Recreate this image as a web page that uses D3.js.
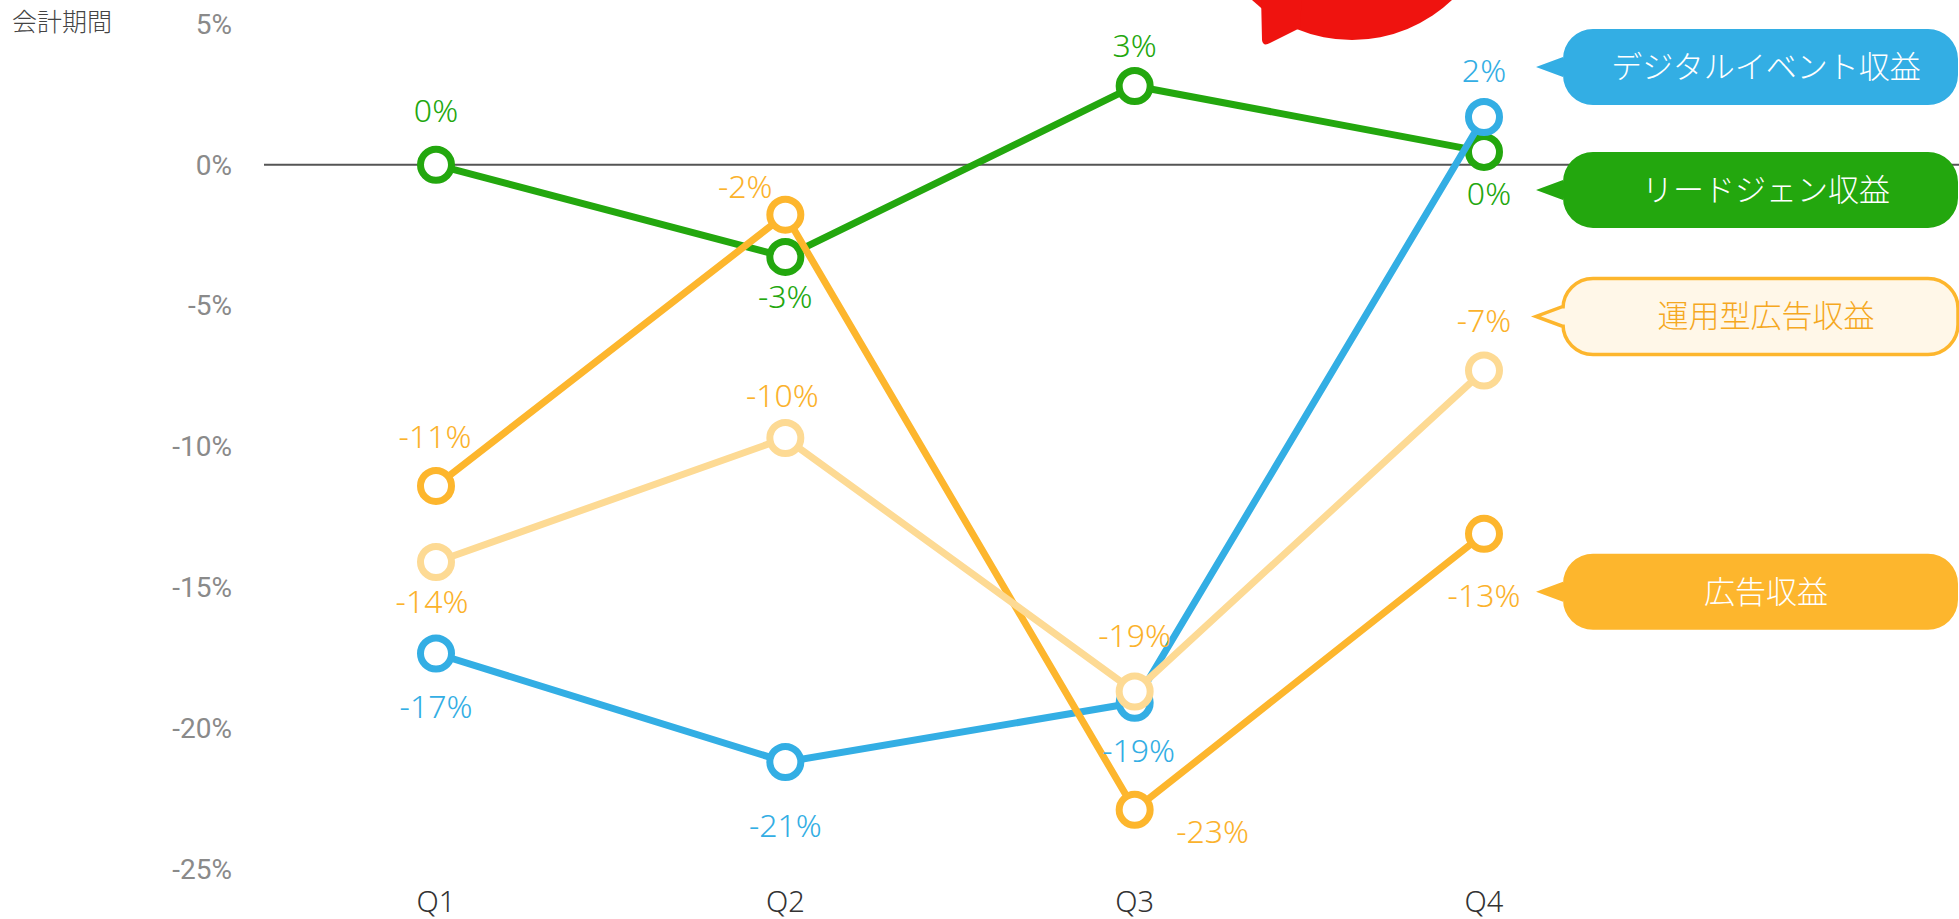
<!DOCTYPE html>
<html>
<head>
<meta charset="utf-8">
<script src="https://cdn.jsdelivr.net/npm/d3@7"></script>
<style>
  html, body { margin: 0; padding: 0; background: #fff; overflow: hidden; }
  svg { display: block; }
</style>
</head>
<body>
<svg class="chart" width="1959" height="919"></svg>
<script>
// data
var quarters = ["Q1", "Q2", "Q3", "Q4"];
var seriesNames = ["デジタルイベント収益", "リードジェン収益", "運用型広告収益", "広告収益"];
var digitalEvent = [-17.35, -21.2, -19.1, 1.7];
var leadGen = [0.0, -3.27, 2.8, 0.46];
var programmaticAd = [-14.1, -9.7, -18.7, -7.3];
var adRevenue = [-11.4, -1.77, -22.9, -13.1];
var yTicks = [5, 0, -5, -10, -15, -20, -25];
var axisTitle = "会計期間";

// label offsets relative to each point (placement only)
var labelOffsets = {
    digitalEvent:   [[0, 53], [0, 64], [4, 48], [0, -46]],
    leadGen:        [[0, -54], [0, 40], [0, -40], [5, 42]],
    programmaticAd: [[-4, 40], [-3, -42], [0, -56], [0, -50]],
    adRevenue:      [[-1, -49], [-40, -28], [78, 22], [0, 62]]
};

var series = [
    {key: "leadGen", name: seriesNames[1], values: leadGen, color: "#23a70e", text: "#23a70e", fill: "#23a70e", legendText: "#fff"},
    {key: "digitalEvent", name: seriesNames[0], values: digitalEvent, color: "#33aee4", text: "#33aee4", fill: "#33aee4", legendText: "#fff"},
    {key: "adRevenue", name: seriesNames[3], values: adRevenue, color: "#fdb62d", text: "#fbb22c", fill: "#fdb62d", legendText: "#fff"},
    {key: "programmaticAd", name: seriesNames[2], values: programmaticAd, color: "#fdda94", text: "#fbb22c", fill: "#fff7e8", legendText: "#f5a81f", stroke: "#fdb62d"}
];

var svg = d3.select(".chart");
var W = +svg.attr("width");

var xScale = d3.scalePoint().domain(quarters).range([436, 1484]);
var yScale = d3.scaleLinear().domain([-25, 5]).range([869, 24]);
var fmt = function (v) { return Math.round(v) + "%"; }; // plain hyphen, like the original

var cjk = "'Noto Sans CJK JP', 'Noto Sans', sans-serif";
var latin = "'Noto Sans', sans-serif";

// red decoration peeking in at the top
var deco = svg.append("g").attr("fill", "#ef130f");
deco.append("circle").attr("cx", 1352).attr("cy", -105).attr("r", 145);
deco.append("path")
    .attr("d", "M1261,-5 L1262,40 Q1263,47 1270,43 L1300,28 L1302,-5 Z");

// y tick labels
svg.append("g").selectAll("text")
    .data(yTicks)
    .enter().append("text")
    .attr("x", 232)
    .attr("y", function (d) { return yScale(d); })
    .attr("dy", "0.35em")
    .attr("text-anchor", "end")
    .attr("fill", "#8a8a8a")
    .style("font", "28px Roboto, sans-serif")
    .text(function (d) { return d + "%"; });

// zero line
svg.append("line")
    .attr("x1", 264).attr("x2", W)
    .attr("y1", yScale(0)).attr("y2", yScale(0))
    .attr("stroke", "#555").attr("stroke-width", 2);

// x labels
svg.append("g").selectAll("text")
    .data(quarters)
    .enter().append("text")
    .attr("x", function (d) { return xScale(d); })
    .attr("y", 902)
    .attr("dy", "0.35em")
    .attr("text-anchor", "middle")
    .attr("fill", "#333")
    .style("font", "300 29px " + latin)
    .text(function (d) { return d; });

svg.append("text")
    .attr("x", 12).attr("y", 22)
    .attr("dy", "0.35em")
    .attr("fill", "#444")
    .style("font", "300 25px " + cjk)
    .text(axisTitle);

var line = d3.line()
    .x(function (d, i) { return xScale(quarters[i]); })
    .y(function (d) { return yScale(d); });

series.forEach(function (s) {
    var g = svg.append("g").attr("class", "serie");
    g.append("path")
        .attr("d", line(s.values))
        .attr("fill", "none")
        .attr("stroke", s.color)
        .attr("stroke-width", 7)
        .attr("stroke-linejoin", "round");
    g.selectAll("circle")
        .data(s.values)
        .enter().append("circle")
        .attr("cx", function (d, i) { return xScale(quarters[i]); })
        .attr("cy", function (d) { return yScale(d); })
        .attr("r", 15.5)
        .attr("fill", "#fff")
        .attr("stroke", s.color)
        .attr("stroke-width", 7);
});

// value labels
series.forEach(function (s) {
    svg.append("g").selectAll("text")
        .data(s.values)
        .enter().append("text")
        .attr("x", function (d, i) { return xScale(quarters[i]) + labelOffsets[s.key][i][0]; })
        .attr("y", function (d, i) { return yScale(d) + labelOffsets[s.key][i][1]; })
        .attr("dy", "0.35em")
        .attr("text-anchor", "middle")
        .attr("fill", s.text)
        .style("font", "300 32px " + latin)
        .text(fmt);
});

// legend bubbles, lined up with the last label of each series
var bx0 = 1563, bx1 = 1958, bh = 76, br = 30, tipX = 1536, half = 10;
function bubblePath(cy) {
    var top = cy - bh / 2, bot = cy + bh / 2;
    var p = d3.path();
    p.moveTo(bx0 + br, top);
    p.lineTo(bx1 - br, top);
    p.arcTo(bx1, top, bx1, top + br, br);
    p.lineTo(bx1, bot - br);
    p.arcTo(bx1, bot, bx1 - br, bot, br);
    p.lineTo(bx0 + br, bot);
    p.arcTo(bx0, bot, bx0, bot - br, br);
    p.lineTo(bx0, cy + half);
    p.lineTo(tipX, cy);
    p.lineTo(bx0, cy - half);
    p.lineTo(bx0, top + br);
    p.arcTo(bx0, top, bx0 + br, top, br);
    p.closePath();
    return p.toString();
}

function legendY(s) {
    var last = s.values.length - 1;
    return yScale(s.values[last]) + labelOffsets[s.key][last][1] - 4;
}

var legend = svg.append("g").selectAll(".legend")
    .data(series)
    .enter().append("g")
    .attr("class", "legend");

legend.append("path")
    .attr("d", function (s) { return bubblePath(legendY(s)); })
    .attr("fill", function (s) { return s.fill; })
    .attr("stroke", function (s) { return s.stroke || "none"; })
    .attr("stroke-width", 3.5);

legend.append("text")
    .attr("x", 1766)
    .attr("y", legendY)
    .attr("dy", "0.35em")
    .attr("text-anchor", "middle")
    .attr("fill", function (s) { return s.legendText; })
    .style("font", "300 31px " + cjk)
    .text(function (s) { return s.name; });
</script>
</body>
</html>
